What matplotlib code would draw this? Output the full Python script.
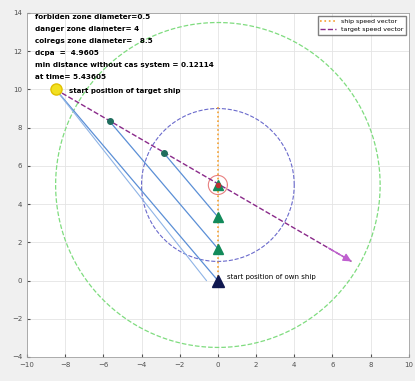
import numpy as np
import matplotlib
matplotlib.use("Agg")
import matplotlib.pyplot as plt

# zone sizes (as plotted, radii in plot units)
forbidden_r = 0.5
danger_r = 4.0
colregs_r = 8.5
zone_center = (0.0, 5.0)

# own ship positions (x, y) over time steps
own_x = [0.0, 0.0, 0.0, 0.0]
own_y = [0.0, 1.67, 3.33, 5.0]

# target ship positions over time steps
tgt_x = [-8.5, -5.67, -2.83, 0.0]
tgt_y = [10.0, 8.33, 6.67, 5.0]

# speed vectors (start x, start y, dx, dy)
ship_vec = [0.0, 0.0, 0.0, 9.1]
target_vec = [-8.5, 10.0, 15.5, -9.0]

info_lines = [
    "forbiden zone diameter=0.5",
    "danger zone diameter= 4",
    "colregs zone diameter=   8.5",
    "dcpa  =  4.9605",
    "min distance without cas system = 0.12114",
    "at time= 5.43605",
]

fig = plt.figure(figsize=(4.15, 3.81), dpi=100)
fig.patch.set_facecolor("#f0f0f0")
ax = fig.add_axes([0.065, 0.063, 0.92, 0.903])
ax.set_facecolor("white")

t = np.linspace(0, 2 * np.pi, 300)
ax.plot(zone_center[0] + colregs_r * np.cos(t), zone_center[1] + colregs_r * np.sin(t),
        "--", color="#7fdc7f", lw=0.9)
ax.plot(zone_center[0] + danger_r * np.cos(t), zone_center[1] + danger_r * np.sin(t),
        "--", color="#6a6acc", lw=0.8)
ax.plot(zone_center[0] + forbidden_r * np.cos(t), zone_center[1] + forbidden_r * np.sin(t),
        "-", color="#e88080", lw=0.8)

# line of sight between ships
for i in range(3):
    ax.plot([tgt_x[i], own_x[i]], [tgt_y[i], own_y[i]], color="#5b8fd6", lw=0.9)
ax.plot([tgt_x[0], -0.6], [tgt_y[0], 0.0], color="#8fb4e6", lw=0.8)

# speed vectors
ax.plot([ship_vec[0], ship_vec[0] + ship_vec[2]], [ship_vec[1], ship_vec[1] + ship_vec[3]],
        ":", color="#f5a030", lw=1.2, label="ship speed vector")
ax.plot([target_vec[0], target_vec[0] + target_vec[2]], [target_vec[1], target_vec[1] + target_vec[3]],
        "--", color="#8a2a8a", lw=1.0, label="target speed vector")
ax.annotate("", xy=(target_vec[0] + target_vec[2], target_vec[1] + target_vec[3]),
            xytext=(target_vec[0] + target_vec[2] - 1.2, target_vec[1] + target_vec[3] + 0.7),
            arrowprops=dict(arrowstyle="-|>", color="#c060d0", lw=1.0, mutation_scale=12,
                            shrinkA=0, shrinkB=0))

# positions
ax.plot(tgt_x[1:3], tgt_y[1:3], "o", color="#1f6e5e", ms=4)
ax.plot(own_x[1:], own_y[1:], "^", color="#128a5a", ms=7)
ax.plot(tgt_x[3], tgt_y[3], "o", color="#c03030", ms=3)
ax.plot(tgt_x[0], tgt_y[0], "o", color="#f2e020", mec="#e0c000", ms=8)
ax.plot(own_x[0], own_y[0], "^", color="#101850", ms=8)

ax.text(tgt_x[0] + 0.7, tgt_y[0] - 0.2, "start position of target ship", fontsize=5, fontweight="bold")
ax.text(own_x[0] + 0.5, own_y[0] + 0.1, "start position of own ship", fontsize=5)

for k, s in enumerate(info_lines):
    ax.text(-9.6, 13.8 - k * 0.63, s, fontsize=5.2, fontweight="bold", va="center")

ax.set_xlim(-10, 10)
ax.set_ylim(-4, 14)
ax.set_xticks(np.arange(-10, 11, 2))
ax.set_yticks(np.arange(-4, 15, 2))
ax.grid(True, color="#e4e4e4", lw=0.6)
ax.tick_params(labelsize=5, colors="#505050", length=2, direction="in")
for sp in ax.spines.values():
    sp.set_color("#a0a0a0")
    sp.set_linewidth(0.6)

ax.legend(loc="upper right", fontsize=4.5, frameon=True, fancybox=False,
          edgecolor="#606060", handlelength=2.5, borderpad=0.4)

fig.savefig("out.png", dpi=100, facecolor=fig.get_facecolor())
